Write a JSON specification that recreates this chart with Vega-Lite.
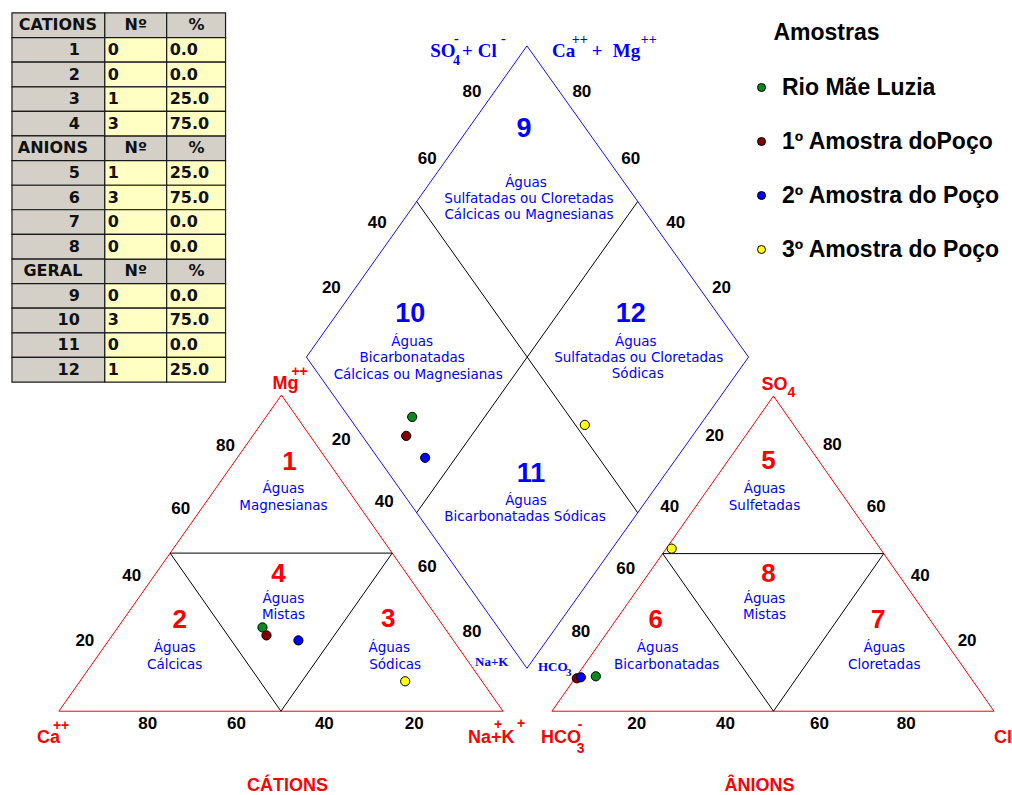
{
  "$schema": "https://vega.github.io/schema/vega-lite/v6.json",
  "width": 1012,
  "height": 795,
  "padding": 0,
  "autosize": {"type": "fit", "contains": "padding"},
  "background": "#ffffff",
  "config": {
    "view": {"stroke": null},
    "legend": {
      "orient": "none",
      "legendX": 750,
      "legendY": 76,
      "padding": 0,
      "labelFont": "Liberation Sans",
      "labelFontSize": 23,
      "labelFontWeight": "bold",
      "labelColor": "#000000",
      "labelLimit": 400,
      "symbolType": "circle",
      "symbolSize": 64,
      "symbolStrokeColor": "#000000",
      "symbolStrokeWidth": 1,
      "rowPadding": 30,
      "labelOffset": 9
    }
  },
  "datasets": {
    "cells": [
      {"kind": "head", "x": 12, "x2": 105, "y": 13, "y2": 37.7},
      {"kind": "head", "x": 105, "x2": 167, "y": 13, "y2": 37.7},
      {"kind": "head", "x": 167, "x2": 226, "y": 13, "y2": 37.7},
      {"kind": "head", "x": 12, "x2": 105, "y": 37.7, "y2": 62.3},
      {"kind": "head", "x": 12, "x2": 105, "y": 62.3, "y2": 87},
      {"kind": "head", "x": 12, "x2": 105, "y": 87, "y2": 111.7},
      {"kind": "head", "x": 12, "x2": 105, "y": 111.7, "y2": 136.3},
      {"kind": "head", "x": 12, "x2": 105, "y": 136.3, "y2": 161},
      {"kind": "head", "x": 105, "x2": 167, "y": 136.3, "y2": 161},
      {"kind": "head", "x": 167, "x2": 226, "y": 136.3, "y2": 161},
      {"kind": "head", "x": 12, "x2": 105, "y": 161, "y2": 185.7},
      {"kind": "head", "x": 12, "x2": 105, "y": 185.7, "y2": 210.3},
      {"kind": "head", "x": 12, "x2": 105, "y": 210.3, "y2": 235},
      {"kind": "head", "x": 12, "x2": 105, "y": 235, "y2": 259.7},
      {"kind": "head", "x": 12, "x2": 105, "y": 259.7, "y2": 284.3},
      {"kind": "head", "x": 105, "x2": 167, "y": 259.7, "y2": 284.3},
      {"kind": "head", "x": 167, "x2": 226, "y": 259.7, "y2": 284.3},
      {"kind": "head", "x": 12, "x2": 105, "y": 284.3, "y2": 309},
      {"kind": "head", "x": 12, "x2": 105, "y": 309, "y2": 333.7},
      {"kind": "head", "x": 12, "x2": 105, "y": 333.7, "y2": 358.3},
      {"kind": "head", "x": 12, "x2": 105, "y": 358.3, "y2": 383},
      {"kind": "val", "x": 105, "x2": 167, "y": 37.7, "y2": 62.3},
      {"kind": "val", "x": 167, "x2": 226, "y": 37.7, "y2": 62.3},
      {"kind": "val", "x": 105, "x2": 167, "y": 62.3, "y2": 87},
      {"kind": "val", "x": 167, "x2": 226, "y": 62.3, "y2": 87},
      {"kind": "val", "x": 105, "x2": 167, "y": 87, "y2": 111.7},
      {"kind": "val", "x": 167, "x2": 226, "y": 87, "y2": 111.7},
      {"kind": "val", "x": 105, "x2": 167, "y": 111.7, "y2": 136.3},
      {"kind": "val", "x": 167, "x2": 226, "y": 111.7, "y2": 136.3},
      {"kind": "val", "x": 105, "x2": 167, "y": 161, "y2": 185.7},
      {"kind": "val", "x": 167, "x2": 226, "y": 161, "y2": 185.7},
      {"kind": "val", "x": 105, "x2": 167, "y": 185.7, "y2": 210.3},
      {"kind": "val", "x": 167, "x2": 226, "y": 185.7, "y2": 210.3},
      {"kind": "val", "x": 105, "x2": 167, "y": 210.3, "y2": 235},
      {"kind": "val", "x": 167, "x2": 226, "y": 210.3, "y2": 235},
      {"kind": "val", "x": 105, "x2": 167, "y": 235, "y2": 259.7},
      {"kind": "val", "x": 167, "x2": 226, "y": 235, "y2": 259.7},
      {"kind": "val", "x": 105, "x2": 167, "y": 284.3, "y2": 309},
      {"kind": "val", "x": 167, "x2": 226, "y": 284.3, "y2": 309},
      {"kind": "val", "x": 105, "x2": 167, "y": 309, "y2": 333.7},
      {"kind": "val", "x": 167, "x2": 226, "y": 309, "y2": 333.7},
      {"kind": "val", "x": 105, "x2": 167, "y": 333.7, "y2": 358.3},
      {"kind": "val", "x": 167, "x2": 226, "y": 333.7, "y2": 358.3},
      {"kind": "val", "x": 105, "x2": 167, "y": 358.3, "y2": 383},
      {"kind": "val", "x": 167, "x2": 226, "y": 358.3, "y2": 383}
    ],
    "tableHead": [
      {"x": 58, "y": 25.3, "t": "CATIONS"},
      {"x": 136, "y": 25.3, "t": "Nº"},
      {"x": 197, "y": 25.3, "t": "%"},
      {"x": 53, "y": 148.7, "t": "ANIONS"},
      {"x": 136, "y": 148.7, "t": "Nº"},
      {"x": 197, "y": 148.7, "t": "%"},
      {"x": 53, "y": 272, "t": "GERAL"},
      {"x": 136, "y": 272, "t": "Nº"},
      {"x": 197, "y": 272, "t": "%"}
    ],
    "tableNum": [
      {"x": 80, "y": 50, "t": "1"},
      {"x": 80, "y": 74.7, "t": "2"},
      {"x": 80, "y": 99.3, "t": "3"},
      {"x": 80, "y": 124, "t": "4"},
      {"x": 80, "y": 173.3, "t": "5"},
      {"x": 80, "y": 198, "t": "6"},
      {"x": 80, "y": 222.7, "t": "7"},
      {"x": 80, "y": 247.3, "t": "8"},
      {"x": 80, "y": 296.7, "t": "9"},
      {"x": 80, "y": 321.3, "t": "10"},
      {"x": 80, "y": 346, "t": "11"},
      {"x": 80, "y": 370.7, "t": "12"}
    ],
    "tableVal": [
      {"x": 108, "y": 50, "t": "0"}, {"x": 170, "y": 50, "t": "0.0"},
      {"x": 108, "y": 74.7, "t": "0"}, {"x": 170, "y": 74.7, "t": "0.0"},
      {"x": 108, "y": 99.3, "t": "1"}, {"x": 170, "y": 99.3, "t": "25.0"},
      {"x": 108, "y": 124, "t": "3"}, {"x": 170, "y": 124, "t": "75.0"},
      {"x": 108, "y": 173.3, "t": "1"}, {"x": 170, "y": 173.3, "t": "25.0"},
      {"x": 108, "y": 198, "t": "3"}, {"x": 170, "y": 198, "t": "75.0"},
      {"x": 108, "y": 222.7, "t": "0"}, {"x": 170, "y": 222.7, "t": "0.0"},
      {"x": 108, "y": 247.3, "t": "0"}, {"x": 170, "y": 247.3, "t": "0.0"},
      {"x": 108, "y": 296.7, "t": "0"}, {"x": 170, "y": 296.7, "t": "0.0"},
      {"x": 108, "y": 321.3, "t": "3"}, {"x": 170, "y": 321.3, "t": "75.0"},
      {"x": 108, "y": 346, "t": "0"}, {"x": 170, "y": 346, "t": "0.0"},
      {"x": 108, "y": 370.7, "t": "1"}, {"x": 170, "y": 370.7, "t": "25.0"}
    ],
    "segments": [
      {"grp": "triangle", "x": 59, "y": 713, "x2": 504, "y2": 713},
      {"grp": "triangle", "x": 59, "y": 713, "x2": 282, "y2": 396},
      {"grp": "triangle", "x": 282, "y": 396, "x2": 504, "y2": 713},
      {"grp": "triangle", "x": 553, "y": 713, "x2": 996, "y2": 713},
      {"grp": "triangle", "x": 553, "y": 713, "x2": 775, "y2": 397},
      {"grp": "triangle", "x": 775, "y": 397, "x2": 996, "y2": 713},
      {"grp": "diamond", "x": 528, "y": 46, "x2": 307, "y2": 358},
      {"grp": "diamond", "x": 307, "y": 358, "x2": 528, "y2": 670},
      {"grp": "diamond", "x": 528, "y": 670, "x2": 750, "y2": 358},
      {"grp": "diamond", "x": 750, "y": 358, "x2": 528, "y2": 46},
      {"grp": "division", "x": 170.5, "y": 554.5, "x2": 393, "y2": 554.5},
      {"grp": "division", "x": 170.5, "y": 554.5, "x2": 281.5, "y2": 713},
      {"grp": "division", "x": 281.5, "y": 713, "x2": 393, "y2": 554.5},
      {"grp": "division", "x": 664, "y": 555, "x2": 885.5, "y2": 555},
      {"grp": "division", "x": 664, "y": 555, "x2": 775, "y2": 713},
      {"grp": "division", "x": 775, "y": 713, "x2": 885.5, "y2": 555},
      {"grp": "division", "x": 417.5, "y": 202, "x2": 639, "y2": 514},
      {"grp": "division", "x": 639, "y": 202, "x2": 417.5, "y2": 514}
    ],
    "ticks": [
      {"x": 148, "y": 726, "t": "80"}, {"x": 237, "y": 726, "t": "60"},
      {"x": 325, "y": 726, "t": "40"}, {"x": 415, "y": 726, "t": "20"},
      {"x": 638, "y": 726, "t": "20"}, {"x": 727, "y": 726, "t": "40"},
      {"x": 821, "y": 726, "t": "60"}, {"x": 908, "y": 726, "t": "80"},
      {"x": 226, "y": 447, "t": "80"}, {"x": 181, "y": 510, "t": "60"},
      {"x": 132, "y": 577, "t": "40"}, {"x": 85, "y": 643, "t": "20"},
      {"x": 342, "y": 441, "t": "20"}, {"x": 385, "y": 503, "t": "40"},
      {"x": 428, "y": 568, "t": "60"}, {"x": 473, "y": 634, "t": "80"},
      {"x": 716, "y": 437, "t": "20"}, {"x": 671, "y": 508, "t": "40"},
      {"x": 627, "y": 570, "t": "60"}, {"x": 582, "y": 634, "t": "80"},
      {"x": 834, "y": 446, "t": "80"}, {"x": 878, "y": 508, "t": "60"},
      {"x": 922, "y": 577, "t": "40"}, {"x": 969, "y": 643, "t": "20"},
      {"x": 473, "y": 92, "t": "80"}, {"x": 428, "y": 159, "t": "60"},
      {"x": 378, "y": 224, "t": "40"}, {"x": 332, "y": 289, "t": "20"},
      {"x": 583, "y": 92, "t": "80"}, {"x": 632, "y": 159, "t": "60"},
      {"x": 677, "y": 224, "t": "40"}, {"x": 723, "y": 289, "t": "20"}
    ],
    "numRed": [
      {"x": 290, "y": 463, "t": "1"},
      {"x": 180, "y": 622, "t": "2"},
      {"x": 389, "y": 621, "t": "3"},
      {"x": 279, "y": 575, "t": "4"},
      {"x": 770, "y": 462, "t": "5"},
      {"x": 657, "y": 622, "t": "6"},
      {"x": 880, "y": 622, "t": "7"},
      {"x": 770, "y": 575, "t": "8"}
    ],
    "numBlue": [
      {"x": 525, "y": 129, "t": "9"},
      {"x": 411, "y": 315, "t": "10"},
      {"x": 532, "y": 475, "t": "11"},
      {"x": 632, "y": 315, "t": "12"}
    ],
    "desc": [
      {"x": 527, "y": 183, "t": "Águas"},
      {"x": 530, "y": 200, "t": "Sulfatadas ou Cloretadas"},
      {"x": 530, "y": 216, "t": "Cálcicas ou Magnesianas"},
      {"x": 413, "y": 343, "t": "Águas"},
      {"x": 413, "y": 359, "t": "Bicarbonatadas"},
      {"x": 419, "y": 376, "t": "Cálcicas ou Magnesianas"},
      {"x": 527, "y": 502, "t": "Águas"},
      {"x": 526, "y": 518, "t": "Bicarbonatadas Sódicas"},
      {"x": 637, "y": 343, "t": "Águas"},
      {"x": 640, "y": 359, "t": "Sulfatadas ou Cloretadas"},
      {"x": 639, "y": 375, "t": "Sódicas"},
      {"x": 284, "y": 490, "t": "Águas"},
      {"x": 284, "y": 507, "t": "Magnesianas"},
      {"x": 284, "y": 601, "t": "Águas"},
      {"x": 284, "y": 617, "t": "Mistas"},
      {"x": 175, "y": 650, "t": "Águas"},
      {"x": 175, "y": 667, "t": "Cálcicas"},
      {"x": 390, "y": 650, "t": "Águas"},
      {"x": 396, "y": 667, "t": "Sódicas"},
      {"x": 766, "y": 490, "t": "Águas"},
      {"x": 766, "y": 507, "t": "Sulfetadas"},
      {"x": 766, "y": 601, "t": "Águas"},
      {"x": 766, "y": 617, "t": "Mistas"},
      {"x": 659, "y": 650, "t": "Águas"},
      {"x": 668, "y": 667, "t": "Bicarbonatadas"},
      {"x": 886, "y": 650, "t": "Águas"},
      {"x": 886, "y": 667, "t": "Cloretadas"}
    ],
    "redMain": [
      {"x": 37, "y": 745, "t": "Ca"},
      {"x": 469, "y": 745, "t": "Na+K"},
      {"x": 273, "y": 390, "t": "Mg"},
      {"x": 763, "y": 391, "t": "SO"},
      {"x": 542, "y": 745, "t": "HCO"},
      {"x": 996, "y": 745, "t": "Cl"}
    ],
    "redSmall": [
      {"x": 53, "y": 732, "t": "++"},
      {"x": 495, "y": 731, "t": "+"},
      {"x": 518, "y": 730, "t": "+"},
      {"x": 292, "y": 377, "t": "++"},
      {"x": 789, "y": 398, "t": "4"},
      {"x": 578, "y": 755, "t": "3"},
      {"x": 579, "y": 731, "t": "-"}
    ],
    "redTitle": [
      {"x": 288, "y": 788, "t": "CÁTIONS"},
      {"x": 761, "y": 788, "t": "ÂNIONS"}
    ],
    "blueMain": [
      {"x": 431, "y": 57, "t": "SO"},
      {"x": 463, "y": 57, "t": "+ Cl"},
      {"x": 553, "y": 57, "t": "Ca"},
      {"x": 593, "y": 57, "t": "+"},
      {"x": 614, "y": 57, "t": "Mg"}
    ],
    "blueSmall": [
      {"x": 454, "y": 65, "t": "4"},
      {"x": 455, "y": 43, "t": "-"},
      {"x": 502, "y": 43, "t": "-"},
      {"x": 573, "y": 44, "t": "++"},
      {"x": 642, "y": 44, "t": "++"}
    ],
    "cornerMain": [
      {"x": 476, "y": 668, "t": "Na+K"},
      {"x": 539, "y": 673, "t": "HCO"}
    ],
    "cornerSub": [
      {"x": 567, "y": 678, "t": "3"}
    ],
    "legendTitle": [
      {"x": 775, "y": 33, "t": "Amostras"}
    ],
    "samples": [
      {"amostra": "Rio Mãe Luzia", "x": 263, "y": 629},
      {"amostra": "Rio Mãe Luzia", "x": 413, "y": 418},
      {"amostra": "Rio Mãe Luzia", "x": 597, "y": 678},
      {"amostra": "1º Amostra doPoço", "x": 267, "y": 637},
      {"amostra": "1º Amostra doPoço", "x": 407, "y": 437},
      {"amostra": "1º Amostra doPoço", "x": 578, "y": 680},
      {"amostra": "2º Amostra do Poço", "x": 299, "y": 642},
      {"amostra": "2º Amostra do Poço", "x": 426, "y": 459},
      {"amostra": "2º Amostra do Poço", "x": 582, "y": 679},
      {"amostra": "3º Amostra do Poço", "x": 406, "y": 683},
      {"amostra": "3º Amostra do Poço", "x": 586, "y": 426},
      {"amostra": "3º Amostra do Poço", "x": 673, "y": 550}
    ]
  },
  "encoding": {
    "x": {"field": "x", "type": "quantitative", "scale": {"domain": [0, 1012], "nice": false, "zero": false}, "axis": null},
    "y": {"field": "y", "type": "quantitative", "scale": {"domain": [0, 795], "nice": false, "zero": false, "reverse": true}, "axis": null}
  },
  "layer": [
    {
      "data": {"name": "cells"},
      "transform": [{"filter": "datum.kind == 'head'"}],
      "mark": {"type": "rect", "fill": "#d4d0c8", "stroke": "#1a1a1a", "strokeWidth": 1.2},
      "encoding": {"x2": {"field": "x2"}, "y2": {"field": "y2"}}
    },
    {
      "data": {"name": "cells"},
      "transform": [{"filter": "datum.kind == 'val'"}],
      "mark": {"type": "rect", "fill": "#ffffc4", "stroke": "#1a1a1a", "strokeWidth": 1.2},
      "encoding": {"x2": {"field": "x2"}, "y2": {"field": "y2"}}
    },
    {
      "data": {"name": "tableHead"},
      "mark": {"type": "text", "font": "DejaVu Sans", "fontWeight": "bold", "fontSize": 16, "color": "#111111", "align": "center", "baseline": "middle"},
      "encoding": {"text": {"field": "t"}}
    },
    {
      "data": {"name": "tableNum"},
      "mark": {"type": "text", "font": "DejaVu Sans", "fontWeight": "bold", "fontSize": 16, "color": "#111111", "align": "right", "baseline": "middle"},
      "encoding": {"text": {"field": "t"}}
    },
    {
      "data": {"name": "tableVal"},
      "mark": {"type": "text", "font": "DejaVu Sans", "fontWeight": "bold", "fontSize": 16, "color": "#111111", "align": "left", "baseline": "middle"},
      "encoding": {"text": {"field": "t"}}
    },
    {
      "data": {"name": "segments"},
      "mark": {"type": "rule", "strokeWidth": 1},
      "encoding": {
        "x2": {"field": "x2"},
        "y2": {"field": "y2"},
        "color": {"field": "grp", "type": "nominal", "scale": {"domain": ["triangle", "diamond", "division"], "range": ["#ff0000", "#1010ff", "#000000"]}, "legend": null}
      }
    },
    {
      "data": {"name": "ticks"},
      "mark": {"type": "text", "font": "Liberation Sans", "fontWeight": "bold", "fontSize": 17, "color": "#000000"},
      "encoding": {"text": {"field": "t"}}
    },
    {
      "data": {"name": "numRed"},
      "mark": {"type": "text", "font": "Liberation Sans", "fontWeight": "bold", "fontSize": 26, "color": "#ff0000"},
      "encoding": {"text": {"field": "t"}}
    },
    {
      "data": {"name": "numBlue"},
      "mark": {"type": "text", "font": "Liberation Sans", "fontWeight": "bold", "fontSize": 27, "color": "#0000ff"},
      "encoding": {"text": {"field": "t"}}
    },
    {
      "data": {"name": "desc"},
      "mark": {"type": "text", "font": "DejaVu Sans", "fontSize": 13.5, "color": "#0000ff"},
      "encoding": {"text": {"field": "t"}}
    },
    {
      "data": {"name": "redMain"},
      "mark": {"type": "text", "font": "Liberation Sans", "fontWeight": "bold", "fontSize": 18, "color": "#ff0000", "align": "left", "baseline": "alphabetic"},
      "encoding": {"text": {"field": "t"}}
    },
    {
      "data": {"name": "redSmall"},
      "mark": {"type": "text", "font": "Liberation Sans", "fontWeight": "bold", "fontSize": 14, "color": "#ff0000", "align": "left", "baseline": "alphabetic"},
      "encoding": {"text": {"field": "t"}}
    },
    {
      "data": {"name": "redTitle"},
      "mark": {"type": "text", "font": "Liberation Sans", "fontWeight": "bold", "fontSize": 18, "color": "#ff0000"},
      "encoding": {"text": {"field": "t"}}
    },
    {
      "data": {"name": "blueMain"},
      "mark": {"type": "text", "font": "Liberation Serif", "fontWeight": "bold", "fontSize": 19, "color": "#0000ff", "align": "left", "baseline": "alphabetic"},
      "encoding": {"text": {"field": "t"}}
    },
    {
      "data": {"name": "blueSmall"},
      "mark": {"type": "text", "font": "Liberation Serif", "fontWeight": "bold", "fontSize": 14, "color": "#0000ff", "align": "left", "baseline": "alphabetic"},
      "encoding": {"text": {"field": "t"}}
    },
    {
      "data": {"name": "cornerMain"},
      "mark": {"type": "text", "font": "Liberation Serif", "fontWeight": "bold", "fontSize": 13, "color": "#0000ff", "align": "left", "baseline": "alphabetic"},
      "encoding": {"text": {"field": "t"}}
    },
    {
      "data": {"name": "cornerSub"},
      "mark": {"type": "text", "font": "Liberation Serif", "fontWeight": "bold", "fontSize": 11, "color": "#0000ff", "align": "left", "baseline": "alphabetic"},
      "encoding": {"text": {"field": "t"}}
    },
    {
      "data": {"name": "legendTitle"},
      "mark": {"type": "text", "font": "Liberation Sans", "fontWeight": "bold", "fontSize": 23, "color": "#000000", "align": "left", "baseline": "middle"},
      "encoding": {"text": {"field": "t"}}
    },
    {
      "data": {"name": "samples"},
      "mark": {"type": "point", "shape": "circle", "filled": true, "size": 85, "stroke": "#000000", "strokeWidth": 1, "opacity": 1},
      "encoding": {
        "fill": {
          "field": "amostra",
          "type": "nominal",
          "sort": null,
          "scale": {"domain": ["Rio Mãe Luzia", "1º Amostra doPoço", "2º Amostra do Poço", "3º Amostra do Poço"], "range": ["#0a8a1e", "#800000", "#0000ff", "#ffff00"]},
          "legend": {"title": null}
        }
      }
    }
  ]
}
